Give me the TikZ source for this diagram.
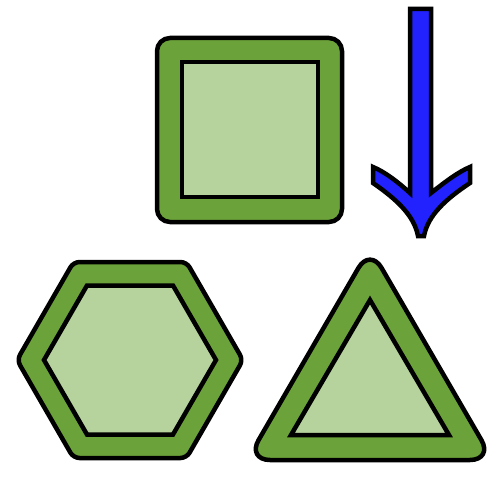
\documentclass[tikz,border=0pt]{standalone}
\begin{document}
\begin{tikzpicture}[x=0.02cm,y=-0.02cm,line width=0.09cm,line join=round]
\definecolor{dkgreen}{RGB}{108,162,58}
\definecolor{ltgreen}{RGB}{182,210,157}
\definecolor{arrowblue}{RGB}{34,34,255}
\tikzset{outer/.style={fill=dkgreen,draw=black,rounded corners=0.26cm},
         inner/.style={fill=ltgreen,draw=black,line join=miter}}
\useasboundingbox (0,0) rectangle (500,500);
% square
\draw[outer] (157,38) rectangle (342,222);
\draw[inner] (182,62) rectangle (318,197);
% hexagon
\draw[outer,rounded corners=0.12cm] (17,360) -- (73.5,262) -- (186.5,262) -- (243,360) -- (186.5,458) -- (73.5,458) -- cycle;
\draw[inner] (44,360) -- (87,285.5) -- (173,285.5) -- (216,360) -- (173,434.5) -- (87,434.5) -- cycle;
% triangle
\draw[outer,rounded corners=0.46cm] (370,248) -- (493,460) -- (247,460) -- cycle;
\draw[inner] (370,300) -- (449,435) -- (291,435) -- cycle;
% arrow
\draw[fill=arrowblue,draw=black,line join=miter]
  (410,9) -- (431,9) -- (431,193)
  .. controls (445,182) and (458,172) .. (470,167)
  -- (470,183)
  .. controls (446,199) and (428,215) .. (424,236)
  -- (418,236)
  .. controls (414,215) and (396,199) .. (373,183)
  -- (373,167)
  .. controls (385,172) and (398,182) .. (410,193) -- cycle;
\end{tikzpicture}
\end{document}
